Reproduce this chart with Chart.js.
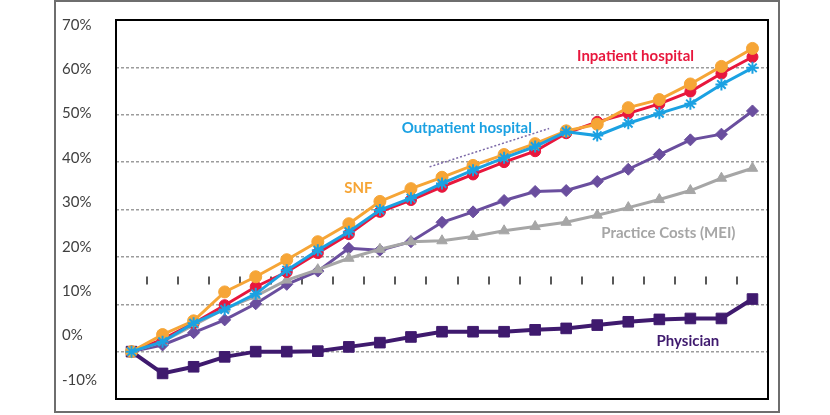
<!DOCTYPE html>
<html>
<head>
<meta charset="utf-8">
<script src="https://cdn.jsdelivr.net/npm/chart.js@4.4.1/dist/chart.umd.min.js"></script>
<style>
  html, body { margin: 0; padding: 0; background: #fff; }
</style>
</head>
<body>
<canvas id="priceChart" width="830" height="415"></canvas>
<script>
// Years along the (unlabelled) x axis
const years = ['2001', '2002', '2003', '2004', '2005', '2006', '2007', '2008', '2009', '2010',
  '2011', '2012', '2013', '2014', '2015', '2016', '2017', '2018', '2019', '2020', '2021'];
const yTicks = [-10, 0, 10, 20, 30, 40, 50, 60, 70];

// Cumulative change, %
const inpatient = [0, 2.6, 6.0, 9.8, 13.7, 16.8, 20.8, 24.8, 29.5, 32.0, 34.8,
  37.4, 40.0, 42.3, 46.1, 48.5, 50.3, 52.3, 54.9, 58.7, 62.2];
const snf = [0, 3.6, 6.5, 12.6, 15.8, 19.4, 23.2, 27.0, 31.7, 34.4, 36.8,
  39.3, 41.6, 43.9, 46.6, 48.0, 51.5, 53.2, 56.5, 60.2, 64.0];
const outpatient = [0, 2.1, 6.0, 8.9, 12.2, 17.2, 21.4, 25.3, 29.9, 32.4, 35.5,
  38.3, 40.9, 43.3, 46.4, 45.6, 48.2, 50.3, 52.3, 56.4, 59.9];
const otherProvider = [0, 1.4, 4.0, 6.7, 10.1, 14.2, 17.0, 21.8, 21.4, 23.2, 27.3,
  29.5, 31.9, 33.8, 34.0, 35.9, 38.5, 41.6, 44.7, 45.9, 50.8];
const practiceCosts = [0, 2.1, 5.6, 9.0, 11.7, 15.1, 17.3, 19.7, 21.6, 23.2, 23.4,
  24.3, 25.5, 26.4, 27.3, 28.8, 30.4, 32.1, 34.0, 36.6, 38.7];
const physician = [0, -4.6, -3.2, -1.1, 0, 0, 0.1, 1.0, 1.9, 3.1, 4.2,
  4.2, 4.2, 4.6, 4.9, 5.6, 6.3, 6.8, 7.0, 7.0, 11.1];

// dotted pointer under the "Outpatient hospital" label (x = year index)
const leaderLine = [{ x: 9.6, y: 39.0 }, { x: 13.45, y: 47.1 }];

const RED = '#E8173D';
const ORANGE = '#F6A536';
const BLUE = '#1BA1E2';
const PURPLE = '#6A4E9E';
const GRAY = '#A6A6A6';
const DARK_PURPLE = '#3F1A6E';

// in-plot series names, placed in data units (x = year index, y = %)
const seriesNotes = [
  { text: 'Inpatient hospital', color: RED, at: 14.35, value: 62.4 },
  { text: 'Outpatient hospital', color: BLUE, at: 8.7, value: 47.2 },
  { text: 'SNF', color: ORANGE, at: 6.85, value: 34.5 },
  { text: 'Practice Costs (MEI)', color: GRAY, at: 15.13, value: 25.0 },
  { text: 'Physician', color: DARK_PURPLE, at: 16.91, value: 2.2 }
];

const labelFont = 'Lato, "Open Sans", sans-serif';

function series(label, data, color, style, radius, width) {
  return {
    label,
    data,
    xAxisID: 'x',
    yAxisID: 'y',
    borderColor: color,
    backgroundColor: color,
    pointBackgroundColor: color,
    pointBorderColor: color,
    pointStyle: style,
    pointRadius: radius,
    pointBorderWidth: style === 'star' ? 2 : 1,
    borderWidth: width,
    tension: 0
  };
}

const frameAndLabels = {
  id: 'frameAndLabels',
  beforeDraw(chart) {
    const { ctx } = chart;
    ctx.save();
    ctx.fillStyle = '#fff';
    ctx.fillRect(0, 0, chart.width, chart.height);
    ctx.strokeStyle = '#6e6e6e';
    ctx.lineWidth = 2;
    ctx.strokeRect(55, 1, 724, 411);
    ctx.restore();
  },
  beforeDatasetsDraw(chart) {
    // small tick marks between years, sitting on the 15% level
    const { ctx, scales } = chart;
    const yMid = scales.y.getPixelForValue(15);
    ctx.save();
    ctx.strokeStyle = '#222';
    ctx.lineWidth = 1.5;
    for (let i = 0; i < years.length - 1; i++) {
      const x = Math.round(scales.xl.getPixelForValue(i + 0.5));
      ctx.beginPath();
      ctx.moveTo(x, yMid - 4);
      ctx.lineTo(x, yMid + 4);
      ctx.stroke();
    }
    ctx.restore();
  },
  afterDraw(chart) {
    const { ctx, chartArea: a, scales } = chart;
    ctx.save();
    ctx.strokeStyle = '#000';
    ctx.lineWidth = 2;
    ctx.strokeRect(a.left, a.top, a.right - a.left, a.bottom - a.top);
    ctx.textBaseline = 'middle';
    ctx.textAlign = 'left';
    ctx.font = 'bold 15px ' + labelFont;
    seriesNotes.forEach((n) => {
      ctx.fillStyle = n.color;
      ctx.fillText(n.text, scales.xl.getPixelForValue(n.at), scales.y.getPixelForValue(n.value));
    });
    ctx.restore();
  }
};

new Chart(document.getElementById('priceChart'), {
  type: 'line',
  data: {
    labels: years,
    datasets: [
      {
        label: 'pointer',
        data: leaderLine,
        xAxisID: 'xl',
        yAxisID: 'y',
        borderColor: '#7d6aa8',
        borderWidth: 1.5,
        borderDash: [2, 2],
        pointRadius: 0
      },
      series('Outpatient hospital', outpatient, BLUE, 'star', 6, 3),
      series('SNF', snf, ORANGE, 'circle', 6, 3),
      series('Inpatient hospital', inpatient, RED, 'circle', 5.5, 3),
      series('Practice Costs (MEI)', practiceCosts, GRAY, 'triangle', 6, 3),
      series('Other', otherProvider, PURPLE, 'rectRot', 6, 3),
      series('Physician', physician, DARK_PURPLE, 'rect', 7.5, 4)
    ]
  },
  options: {
    responsive: false,
    animation: false,
    layout: { padding: { left: 62, top: 20, right: 62, bottom: 16 } },
    plugins: {
      legend: { display: false },
      tooltip: { enabled: false }
    },
    scales: {
      x: { type: 'category', offset: true, display: false },
      xl: { type: 'linear', min: -0.5, max: years.length - 0.5, display: false },
      y: {
        position: 'left',
        min: -10,
        max: 70,
        ticks: { display: false, stepSize: 10 },
        grid: { color: '#9c9c9c', lineWidth: 1.5, drawTicks: false },
        border: { display: false, dash: [3, 2] }
      },
      yLabels: {
        position: 'left',
        min: -14.3,
        max: 71.1,
        grid: { display: false, drawTicks: false },
        border: { display: false },
        afterBuildTicks: (axis) => { axis.ticks = yTicks.map((value) => ({ value })); },
        afterFit: (axis) => { axis.width = 54; },
        ticks: {
          crossAlign: 'far',
          padding: 0,
          color: '#404040',
          font: { family: labelFont, size: 15 },
          callback: (v) => v + '%'
        }
      }
    }
  },
  plugins: [frameAndLabels]
});
</script>
</body>
</html>
